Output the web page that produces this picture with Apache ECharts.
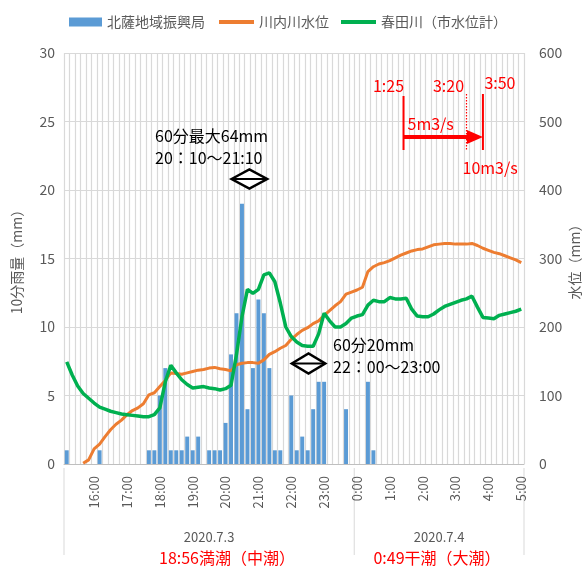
<!DOCTYPE html>
<html><head><meta charset="utf-8">
<script src="https://cdn.jsdelivr.net/npm/echarts@6/dist/echarts.min.js"></script>
<style>html,body{margin:0;padding:0;background:#fff}#c{width:585px;height:571px}</style>
</head><body><div id="c"></div>
<script>
const times = [
"15:10","15:20","15:30","15:40","15:50",
"16:00","16:10","16:20","16:30","16:40","16:50",
"17:00","17:10","17:20","17:30","17:40","17:50",
"18:00","18:10","18:20","18:30","18:40","18:50",
"19:00","19:10","19:20","19:30","19:40","19:50",
"20:00","20:10","20:20","20:30","20:40","20:50",
"21:00","21:10","21:20","21:30","21:40","21:50",
"22:00","22:10","22:20","22:30","22:40","22:50",
"23:00","23:10","23:20","23:30","23:40","23:50",
"0:00","0:10","0:20","0:30","0:40","0:50",
"1:00","1:10","1:20","1:30","1:40","1:50",
"2:00","2:10","2:20","2:30","2:40","2:50",
"3:00","3:10","3:20","3:30","3:40","3:50",
"4:00","4:10","4:20","4:30","4:40","4:50",
"5:00"];
const rain = [1,0,0,0,0,0,1,0,0,0,0,0,0,0,0,1,1,5,7,1,1,1,2,1,2,0,1,1,1,3,8,11,19,4,7,12,11,7,1,1,0,5,1,2,1,4,6,6,0,0,0,4,0,0,0,6,1,
0,0,0,0,0,0,0,0,0,0,0,0,0,0,0,0,0,0,0,0,0,0,0,0,0,0,0];
const sendai = [null,null,null,1,6,22,29,40,50,58,64,72,78,82,88,101,104,113,122,133,132,131,133,135,137,138,140,141,139,138,136,145,147,148,148,147,152,160,164,169,173,182,189,195,199,205,209,217,224,231,237,248,251,254,258,281,288,292,294,297,301,305,308,311,313,314,317,320,321,322,322,321,321,321,322,319,315,312,309,307,304,301,298,294];
const haruta = [149,130,114,103,96,89,83,80,77,75,73,72,71,70,69,69,72,82,120,144,133,123,116,111,112,113,111,110,108,110,115,160,215,255,249,255,276,279,266,235,200,186,178,173,172,172,190,220,209,200,200,205,213,216,218,232,239,237,237,243,241,241,242,226,216,215,215,219,225,230,233,236,239,241,245,229,214,213,212,217,219,221,223,226];
const seriesNames = ['北薩地域振興局','川内川水位','春田川（市水位計）'];
const dateLabels = ['2020.7.3','2020.7.4'];
const tideLabels = ['18:56満潮（中潮）','0:49干潮（大潮）'];

const FONT = '"Noto Sans CJK JP","Noto Sans",sans-serif';
const GRAY = '#595959';
const chart = echarts.init(document.getElementById('c'));
const legendText = {color:GRAY,fontSize:14,fontFamily:FONT};
chart.setOption({
  animation:false,
  textStyle:{fontFamily:FONT},
  legend:[
    {top:10,left:64,itemWidth:33,itemHeight:9,textStyle:legendText,
     data:[{name:seriesNames[0],icon:'rect'}]},
    {top:10,left:214,itemWidth:35,itemHeight:4,itemGap:12,textStyle:legendText,
     data:[{name:seriesNames[1],icon:'rect'},{name:seriesNames[2],icon:'rect'}]}
  ],
  grid:{left:64,right:61,top:53,bottom:107,outerBoundsMode:'none',containLabel:false},
  xAxis:{type:'category',data:times,boundaryGap:true,
    axisLine:{lineStyle:{color:'#BFBFBF'}},axisTick:{show:false},
    axisLabel:{interval:(i)=>(i-5)%6===0,rotate:90,color:GRAY,fontSize:13,margin:12,fontFamily:FONT},
    splitLine:{show:true,interval:0,lineStyle:{color:'#D9D9D9',width:1.2}}},
  yAxis:[
    {type:'value',min:0,max:30,interval:5,name:'10分雨量（mm）',nameLocation:'middle',nameGap:40,nameRotate:90,nameMoveOverlap:false,
     nameTextStyle:{color:GRAY,fontSize:14,fontFamily:FONT},
     axisLabel:{color:GRAY,fontSize:14,margin:9,fontFamily:FONT},
     axisLine:{show:false},axisTick:{show:false},
     splitLine:{lineStyle:{color:'#D9D9D9',width:1}}},
    {type:'value',min:0,max:600,interval:100,position:'right',name:'水位（mm）',nameLocation:'middle',nameGap:44,nameRotate:90,nameMoveOverlap:false,
     nameTextStyle:{color:GRAY,fontSize:14,fontFamily:FONT},
     axisLabel:{color:GRAY,fontSize:14,margin:15,fontFamily:FONT},
     axisLine:{show:false},axisTick:{show:false},splitLine:{show:false}}
  ],
  series:[
    {name:seriesNames[0],type:'bar',data:rain,yAxisIndex:0,barCategoryGap:'28%',itemStyle:{color:'#5B9BD5'}},
    {name:seriesNames[1],type:'line',data:sendai,yAxisIndex:1,symbol:'none',showSymbol:false,lineStyle:{color:'#ED7D31',width:3},itemStyle:{color:'#ED7D31'}},
    {name:seriesNames[2],type:'line',data:haruta,yAxisIndex:1,symbol:'none',showSymbol:false,lineStyle:{color:'#00B050',width:3.5},itemStyle:{color:'#00B050'}}
  ]
});

const X = i => chart.convertToPixel({xAxisIndex:0}, i);
const bw = X(1) - X(0);
const Xf = f => X(0) + f*bw;
const yBase = chart.convertToPixel({yAxisIndex:0}, 0);
const RED = '#FF0000';
const g = [];
function txt(x,y,s,opt){ g.push({type:'text',x:x,y:y,style:Object.assign({text:s,fontFamily:FONT,fontSize:16,fill:'#000',verticalAlign:'middle'},opt||{})}); }
function line(x1,y1,x2,y2,st){ g.push({type:'line',shape:{x1:x1,y1:y1,x2:x2,y2:y2},style:Object.assign({stroke:RED,lineWidth:2},st||{})}); }
function diamond(l,r,cy,h){
  const cx=(l+r)/2;
  g.push({type:'polygon',shape:{points:[[l,cy],[cx,cy-h],[r,cy],[cx,cy+h]]},style:{fill:'#fff',stroke:'#000',lineWidth:2.5}});
  g.push({type:'line',shape:{x1:l,y1:cy,x2:r,y2:cy},style:{stroke:'#000',lineWidth:2}});
}
// separators under axis
const sepX = [Xf(-0.5), Xf(52.5), Xf(83.5)];
sepX.forEach(x=>line(x,yBase+4,x,yBase+91,{stroke:'#D9D9D9',lineWidth:1}));
// date labels
txt((sepX[0]+sepX[1])/2, yBase+73, dateLabels[0], {fill:GRAY,fontSize:13,align:'center'});
txt((sepX[1]+sepX[2])/2, yBase+73, dateLabels[1], {fill:GRAY,fontSize:13,align:'center'});
// tide labels
txt(227, 558, tideLabels[0], {fill:RED,fontSize:16,align:'center'});
txt(437, 558, tideLabels[1], {fill:RED,fontSize:16,align:'center'});
// 60-min annotations
txt(155,136,'60分最大64mm');
txt(155,158,'20：10～21:10');
diamond(Xf(30.1), Xf(36.6), 179, 9.5);
txt(333,345,'60分20mm');
txt(333,367,'22：00～23:00');
diamond(Xf(41.1), Xf(47.2), 363.5, 10);
// red discharge annotation
const xa = Xf(61.5), xb = X(73), xc = X(76);
line(xa,96,xa,150,{lineWidth:2});
line(xb,94,xb,150,{lineWidth:1.2,lineDash:[1.5,1.5]});
line(xc,94,xc,150,{lineWidth:2});
line(xa,137,xc-14,137,{lineWidth:4});
g.push({type:'polygon',shape:{points:[[xc-16,130],[xc,137],[xc-16,144]]},style:{fill:RED}});
txt(xa-15,86,'1:25',{fill:RED,align:'center'});
txt(xb-18,86,'3:20',{fill:RED,align:'center'});
txt(xc+17,83,'3:50',{fill:RED,align:'center'});
txt(xa+4,124,'5m3/s',{fill:RED});
txt(xb-4,168,'10m3/s',{fill:RED});
chart.setOption({graphic:g});
</script></body></html>
